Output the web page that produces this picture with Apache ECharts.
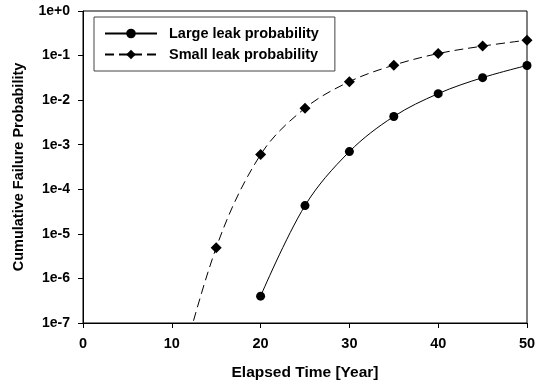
<!DOCTYPE html>
<html>
<head>
<meta charset="utf-8">
<script src="https://cdn.jsdelivr.net/npm/echarts@6/dist/echarts.min.js"></script>
<style>html,body{margin:0;padding:0;background:#fff;}#c{width:541px;height:381px;}</style>
</head>
<body>
<div id="c"></div>
<script>
var years = [20, 25, 30, 35, 40, 45, 50];
var largeLeak = [4e-7, 4.3e-5, 7e-4, 4.3e-3, 1.4e-2, 3.2e-2, 6e-2];
var smallYears = [10, 15, 20, 25, 30, 35, 40, 45, 50];
var smallLeak = [1.7e-9, 4.9e-6, 6e-4, 6.6e-3, 2.6e-2, 6.1e-2, 0.111, 0.163, 0.222];
var xTicks = [0, 10, 20, 30, 40, 50];

var FONT = 'Liberation Sans, Arial, sans-serif';
var chart = echarts.init(document.getElementById('c'));
function fmt(v) {
  var e = Math.round(Math.log10(v));
  return '1e' + (e >= 0 ? '+' + e : e);
}
var smallData = smallYears.map(function (x, i) {
  var d = { value: [x, smallLeak[i]] };
  if (x < 15) { d.symbol = 'none'; }
  return d;
});
chart.setOption({
  animation: false,
  grid: { left: 83, right: 14, top: 11, bottom: 58, show: true, borderColor: '#000', borderWidth: 1,
    containLabel: false, outerBoundsMode: 'none' },
  legend: {
    orient: 'vertical', left: 94, top: 17,
    padding: [9, 16, 9, 10],
    itemWidth: 52, itemHeight: 12, itemGap: 6,
    borderColor: '#444', borderWidth: 1, backgroundColor: '#fff',
    textStyle: { fontFamily: FONT, fontWeight: 'bold', fontSize: 14.5, color: '#000', padding: [0, 0, 0, 7] },
    data: ['Large leak probability', 'Small leak probability']
  },
  xAxis: {
    type: 'value', min: 0, max: 50, interval: 10,
    name: 'Elapsed Time [Year]', nameLocation: 'middle', nameGap: 42,
    nameTextStyle: { fontFamily: FONT, fontWeight: 'bold', fontSize: 15.5, color: '#000' },
    axisLine: { lineStyle: { color: '#000', width: 1 } },
    axisTick: { inside: false, length: 5, lineStyle: { color: '#000' } },
    axisLabel: { fontFamily: FONT, fontWeight: 'bold', fontSize: 14.5, color: '#000', margin: 13,
      customValues: xTicks },
    splitLine: { show: false }
  },
  yAxis: {
    type: 'log', logBase: 10, min: 1e-7, max: 1,
    name: 'Cumulative Failure Probability', nameLocation: 'middle', nameGap: 57,
    nameTextStyle: { fontFamily: FONT, fontWeight: 'bold', fontSize: 14.5, color: '#000' },
    axisLine: { show: true, lineStyle: { color: '#000', width: 1 } },
    axisTick: { show: true, inside: false, length: 5, lineStyle: { color: '#000' } },
    axisLabel: { fontFamily: FONT, fontWeight: 'bold', fontSize: 14, color: '#000', margin: 13, formatter: fmt },
    splitLine: { show: false },
    minorTick: { show: false }
  },
  series: [
    {
      name: 'Large leak probability', type: 'line', smooth: 0.35,
      symbol: 'circle', symbolSize: 9,
      itemStyle: { color: '#000' },
      lineStyle: { color: '#000', width: 1 },
      data: years.map(function (x, i) { return [x, largeLeak[i]]; })
    },
    {
      name: 'Small leak probability', type: 'line', smooth: 0.35,
      symbol: 'diamond', symbolSize: 11,
      itemStyle: { color: '#000' },
      lineStyle: { color: '#000', width: 1, type: [9, 5] },
      clip: true,
      data: smallData
    }
  ]
});
</script>
</body>
</html>
